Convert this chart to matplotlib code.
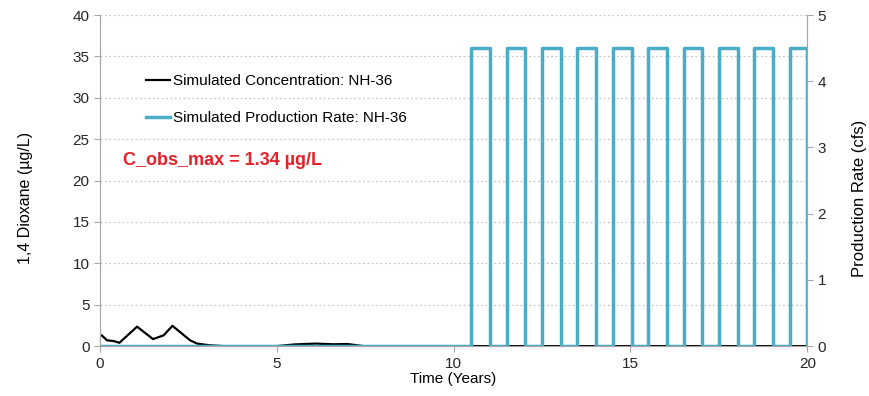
import matplotlib
matplotlib.use("Agg")
import matplotlib.pyplot as plt

plt.rcParams['font.family'] = ['Liberation Sans', 'DejaVu Sans']

# simulated concentration (ug/L)
conc_t = [0.0, 0.05, 0.2, 0.4, 0.55, 1.05, 1.5, 1.8, 2.05, 2.55, 2.75, 3.1, 3.5, 5.0,
          5.5, 6.1, 6.6, 7.0, 7.45, 8.0, 20.0]
conc = [1.3, 1.3, 0.7, 0.6, 0.4, 2.35, 0.85, 1.3, 2.45, 0.7, 0.3, 0.1, 0.0, 0.0,
        0.2, 0.3, 0.22, 0.25, 0.0, 0.0, 0.0]

# simulated production rate (cfs), step changes
rate_t = [0.0, 10.5, 11.03, 11.5, 12.03, 12.5, 13.03, 13.5, 14.03, 14.5, 15.03,
          15.5, 16.03, 16.5, 17.03, 17.5, 18.03, 18.5, 19.03, 19.5, 20.0]
rate = [0.0, 4.5, 0.0, 4.5, 0.0, 4.5, 0.0, 4.5, 0.0, 4.5, 0.0,
        4.5, 0.0, 4.5, 0.0, 4.5, 0.0, 4.5, 0.0, 4.5, 0.0]

fig = plt.figure(figsize=(8.69, 3.96), dpi=100)
ax = fig.add_axes([0.115, 0.126, 0.814, 0.836])
ax2 = ax.twinx()

gray = '#a6a6a6'
cyan = '#4bacc6'

ax.plot(conc_t, conc, color='black', lw=1.6, label='Simulated Concentration: NH-36')
ax2.plot(rate_t, rate, color=cyan, lw=2.5, drawstyle='steps-post',
         label='Simulated Production Rate: NH-36')

ax.set_xlim(0, 20)
ax.set_ylim(0, 40)
ax2.set_ylim(0, 5)
ax.set_xticks([0, 5, 10, 15, 20])
ax.set_yticks(range(0, 41, 5))
ax2.set_yticks(range(0, 6))

ax.xaxis.grid(False)
ax2.grid(False)
ax.yaxis.grid(True, linestyle=(0, (1.5, 2)), color='#c8c8c8', lw=0.9)
ax.set_axisbelow(True)

for a in (ax, ax2):
    a.spines['top'].set_visible(False)
    for s in ('left', 'right', 'bottom'):
        a.spines[s].set_color(gray)
    a.tick_params(colors=gray, labelcolor='#262626', labelsize=11, length=4)

ax.set_xlabel('Time (Years)', fontsize=11, labelpad=1)
ax.set_ylabel('1,4 Dioxane (µg/L)', fontsize=11.5)
ax.yaxis.set_label_coords(-0.094, 0.447)
ax2.set_ylabel('Production Rate (cfs)', fontsize=12)
ax2.yaxis.set_label_coords(1.063, 0.447)

h1, l1 = ax.get_legend_handles_labels()
h2, l2 = ax2.get_legend_handles_labels()
ax2.legend(h1 + h2, l1 + l2, loc='upper left', bbox_to_anchor=(0.045, 0.862),
           frameon=False, fontsize=11, handlelength=1.6, handletextpad=0.2,
           labelspacing=1.5)

ax2.text(0.033, 0.548, 'C_obs_max = 1.34 µg/L', transform=ax.transAxes,
         color='#e8202a', fontsize=13, fontweight='bold')

fig.savefig('out.png', dpi=100)
